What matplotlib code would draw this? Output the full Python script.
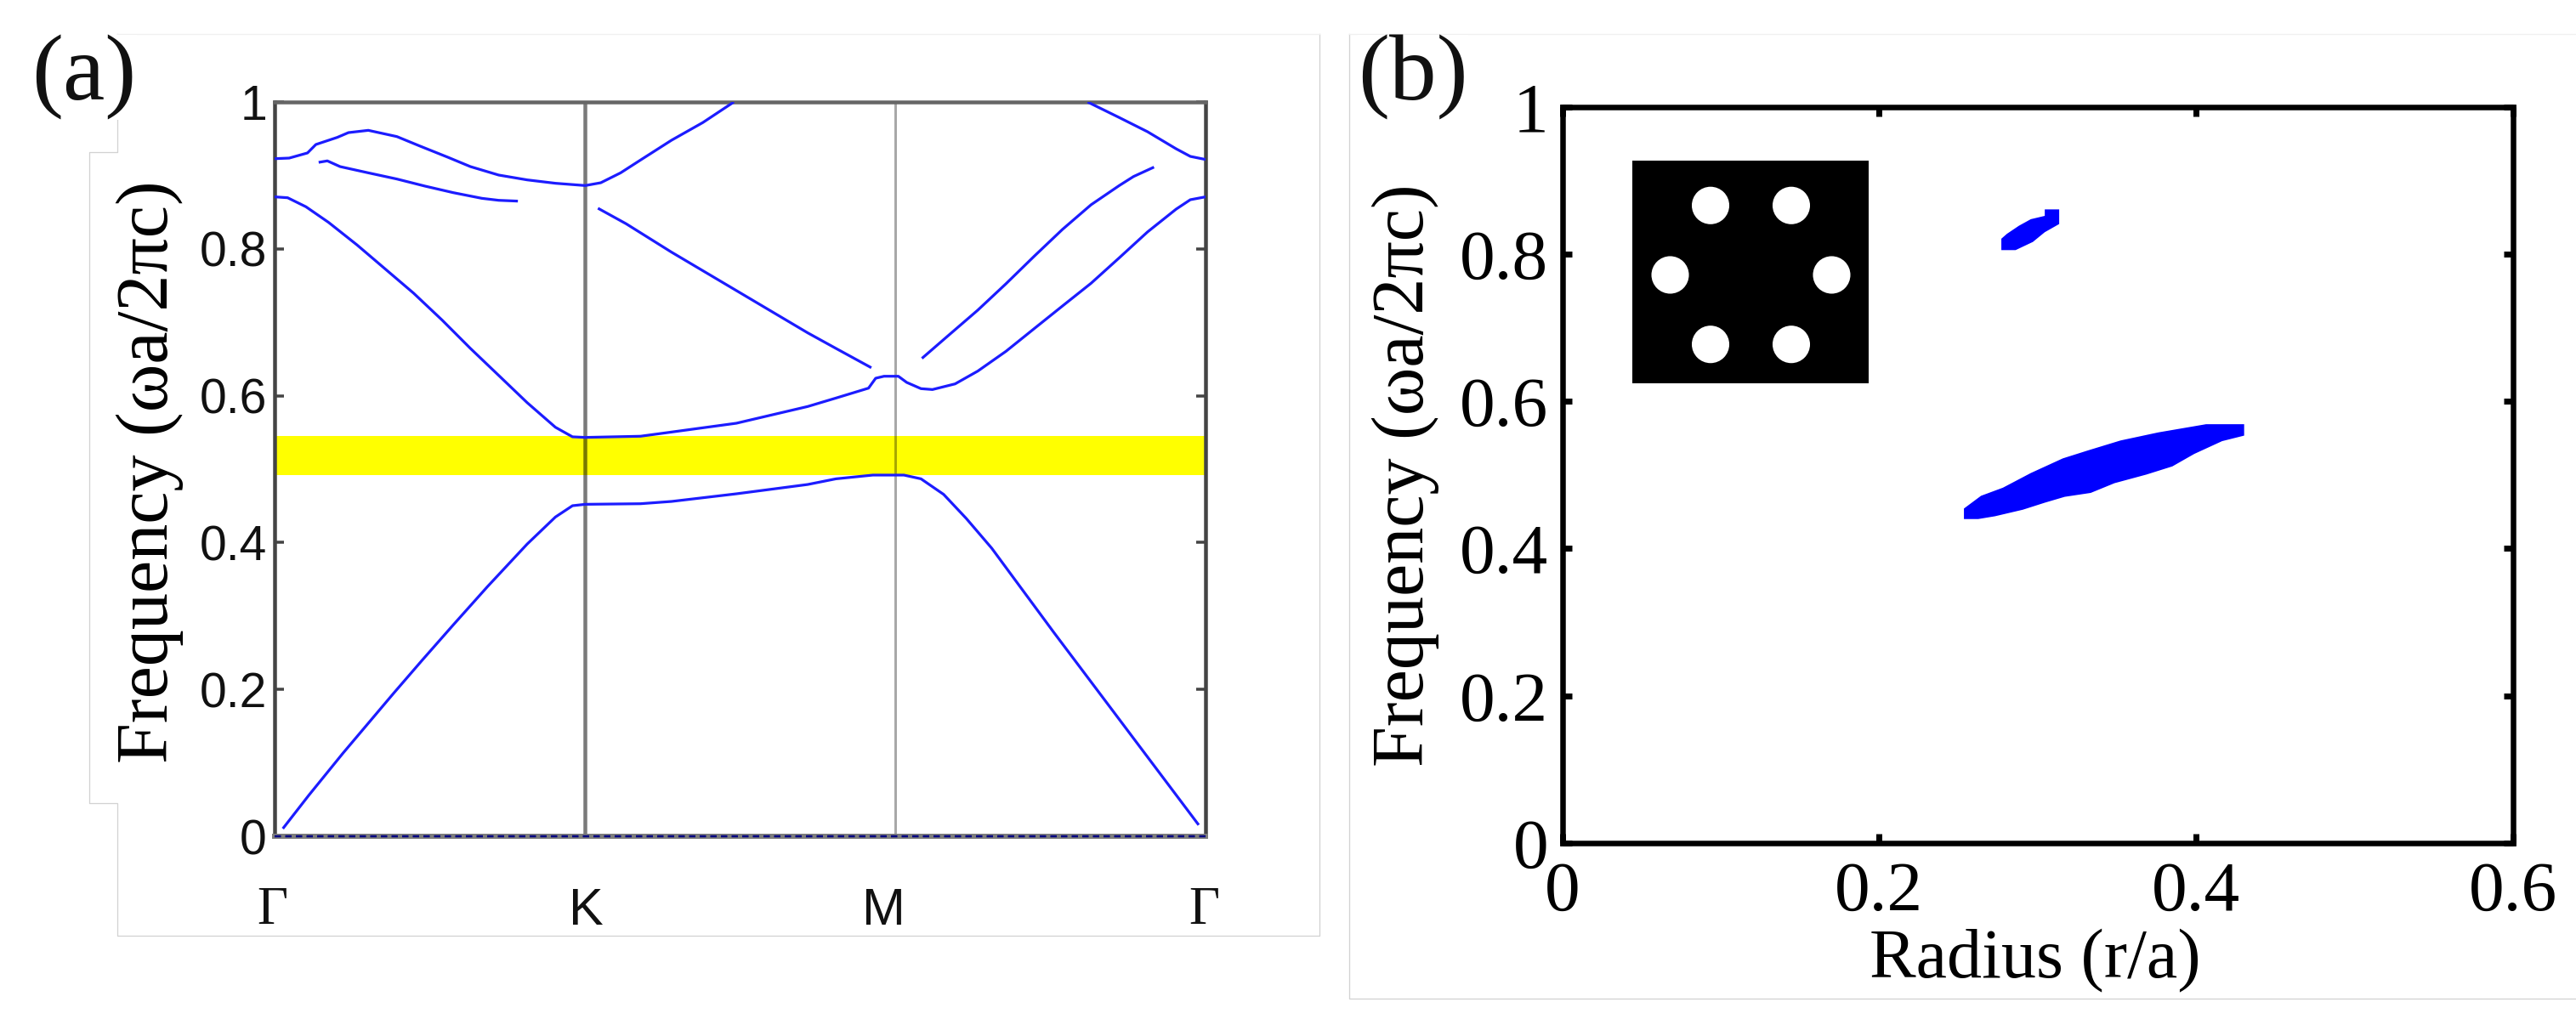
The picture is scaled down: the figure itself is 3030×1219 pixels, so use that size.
import matplotlib
matplotlib.use("Agg")
import matplotlib.pyplot as plt
from matplotlib.lines import Line2D
from matplotlib.patches import Circle

# ==========================================
# DATA - PANEL (a), BAND DIAGRAM
# ==========================================

# path position: 0 = Gamma, 1 = K, 2 = M, 3 = Gamma
band1_x = [0.0265, 0.1105, 0.220, 0.302, 0.384, 0.476, 0.576, 0.686, 0.814, 0.905, 0.960, 1.001, 1.179, 1.279, 1.488, 1.718, 1.809, 1.928, 2.028, 2.083, 2.156, 2.229, 2.311, 2.412, 2.512, 2.631, 2.722, 2.814, 2.905, 2.978]
band1_y = [0.0104, 0.056, 0.113, 0.154, 0.195, 0.240, 0.288, 0.340, 0.398, 0.4348, 0.4502, 0.4521, 0.4529, 0.4560, 0.4664, 0.4791, 0.4868, 0.4919, 0.4919, 0.4868, 0.4656, 0.4328, 0.3923, 0.3344, 0.2771, 0.2103, 0.1592, 0.1075, 0.0564, 0.0154]

band2_x = [0, 0.042, 0.101, 0.174, 0.266, 0.357, 0.448, 0.540, 0.631, 0.722, 0.814, 0.905, 0.960, 1.001, 1.179, 1.279, 1.488, 1.718, 1.809, 1.914, 1.937, 1.964, 2.010, 2.037, 2.083, 2.120, 2.193, 2.266, 2.357, 2.448, 2.539, 2.631, 2.722, 2.813, 2.905, 2.951, 3.0]
band2_y = [0.8708, 0.8696, 0.8573, 0.836, 0.8052, 0.7724, 0.7396, 0.7029, 0.6644, 0.6277, 0.5905, 0.5570, 0.544, 0.5432, 0.5448, 0.5505, 0.5625, 0.5853, 0.5968, 0.6103, 0.6238, 0.6265, 0.6265, 0.6181, 0.6096, 0.6084, 0.6161, 0.6335, 0.6605, 0.6914, 0.7222, 0.7531, 0.7878, 0.8230, 0.8540, 0.8669, 0.8708]

band3_left_x = [0, 0.047, 0.106, 0.133, 0.202, 0.238, 0.302, 0.394, 0.467, 0.558, 0.631, 0.722, 0.814, 0.905, 1.001, 1.051, 1.115, 1.179, 1.279, 1.38, 1.48]
band3_left_y = [0.9228, 0.9236, 0.9306, 0.9421, 0.9518, 0.9583, 0.9614, 0.9529, 0.9402, 0.9248, 0.912, 0.9005, 0.8939, 0.8893, 0.8862, 0.89, 0.9035, 0.9209, 0.9479, 0.972, 1.0]

band3_right_x = [2.62, 2.722, 2.813, 2.905, 2.951, 3.0]
band3_right_y = [1.0, 0.9788, 0.9595, 0.9363, 0.9259, 0.9217]

band4a_x = [0.142, 0.170, 0.211, 0.302, 0.394, 0.485, 0.576, 0.668, 0.722, 0.784]
band4a_y = [0.9178, 0.9198, 0.912, 0.9035, 0.8951, 0.8854, 0.8765, 0.8688, 0.8661, 0.865]

band4b_x = [1.042, 1.133, 1.279, 1.488, 1.718, 1.809, 1.923]
band4b_y = [0.8553, 0.8341, 0.7955, 0.7432, 0.6856, 0.6644, 0.6381]

band4c_x = [2.086, 2.174, 2.266, 2.357, 2.448, 2.539, 2.631, 2.722, 2.768, 2.834]
band4c_y = [0.6508, 0.6830, 0.7165, 0.7525, 0.7900, 0.8265, 0.8600, 0.8862, 0.8985, 0.9113]

# flat band lying on the axis
band0_x = [0, 3]
band0_y = [0, 0]

gap_low = 0.492
gap_high = 0.545

a_yticks = [0, 0.2, 0.4, 0.6, 0.8, 1]
a_yticklabels = ["0", "0.2", "0.4", "0.6", "0.8", "1"]
a_points = [0, 1, 2, 3]
a_point_labels = ["\u0393", "K", "M", "\u0393"]

# ==========================================
# DATA - PANEL (b), GAP MAP
# ==========================================

small_gap_r = [0.2771, 0.2861, 0.2970, 0.3045, 0.3136, 0.3136, 0.3045, 0.3045, 0.2957, 0.2882, 0.2806, 0.2771]
small_gap_f = [0.8052, 0.8052, 0.8163, 0.8295, 0.8406, 0.8605, 0.8605, 0.8517, 0.8472, 0.8383, 0.8273, 0.8207]

large_gap_r = [0.2535, 0.2643, 0.2781, 0.2957, 0.3159, 0.3322, 0.3523, 0.3762, 0.4063, 0.4303, 0.4303, 0.4164, 0.3988, 0.3850, 0.3686, 0.3485, 0.3335, 0.3171, 0.3045, 0.2907, 0.2731, 0.2625, 0.2535]
large_gap_f = [0.4543, 0.4716, 0.4826, 0.5025, 0.5224, 0.5335, 0.5467, 0.5577, 0.5688, 0.5688, 0.5533, 0.5458, 0.5284, 0.5115, 0.5004, 0.4887, 0.4755, 0.4702, 0.4622, 0.4527, 0.4438, 0.4400, 0.4400]

b_xticks = [0, 0.2, 0.4, 0.6]
b_xticklabels = ["0", "0.2", "0.4", "0.6"]
b_yticks = [0, 0.2, 0.4, 0.6, 0.8, 1]
b_yticklabels = ["0", "0.2", "0.4", "0.6", "0.8", "1"]

# holes of the unit cell, in units of the ring radius
hole_x = [-0.5, 0.5, -1, 1, -0.5, 0.5]
hole_y = [0.86, 0.86, 0, 0, -0.86, -0.86]
hole_radius = 0.232

# ==========================================
# SETTINGS
# ==========================================

W = 3030
H = 1219
DPI = 100
PX = 72 / DPI  # one pixel in points

SERIF = "Liberation Serif"
SANS = "Liberation Sans"
BLUE = "#1c1cff"
DARK = "#444444"


def axes_box(left, top, right, bottom):
    return [left / W, 1 - bottom / H, (right - left) / W, (bottom - top) / H]


fig = plt.figure(figsize=(W / DPI, H / DPI), dpi=DPI)

# ==========================================
# PANEL OUTLINES
# ==========================================

frame_a_x = [138, 138, 105, 105, 138, 138, 1552, 1552]
frame_a_y = [40, 179, 179, 945, 945, 1101, 1101, 40]
frame_b_x = [1587, 1587, 3030]
frame_b_y = [40, 1175, 1175]

for fx, fy in [(frame_a_x, frame_a_y), (frame_b_x, frame_b_y)]:
    fig.add_artist(Line2D([v / W for v in fx], [1 - v / H for v in fy],
                          color="#d2d2d2", lw=1.3 * PX, zorder=0))
fig.add_artist(Line2D([138 / W, 1552 / W], [1 - 40 / H, 1 - 40 / H], color="#f0f0f0", lw=1.3 * PX, zorder=0))
fig.add_artist(Line2D([1587 / W, 1], [1 - 40 / H, 1 - 40 / H], color="#f0f0f0", lw=1.3 * PX, zorder=0))

# ==========================================
# PANEL (a)
# ==========================================

ax1 = fig.add_axes(axes_box(323, 120, 1418, 984))
ax1.patch.set_alpha(0)
ax1.set_xlim(0, 3)
ax1.set_ylim(0, 1)

ax1.axhspan(gap_low, gap_high, color="#ffff00", lw=0, zorder=1)
ax1.axvline(a_points[1], color="black", alpha=0.52, lw=4.5 * PX, zorder=2)
ax1.axvline(a_points[2], color="black", alpha=0.34, lw=3 * PX, zorder=2)

bands = [
    (band1_x, band1_y),
    (band2_x, band2_y),
    (band3_left_x, band3_left_y),
    (band3_right_x, band3_right_y),
    (band4a_x, band4a_y),
    (band4b_x, band4b_y),
    (band4c_x, band4c_y),
]
for bx, by in bands:
    ax1.plot(bx, by, color=BLUE, lw=3.2 * PX, zorder=3, solid_capstyle="butt", solid_joinstyle="round")

for side in ["left", "right"]:
    ax1.spines[side].set_color(DARK)
    ax1.spines[side].set_linewidth(4.5 * PX)
ax1.spines["top"].set_color("#666666")
ax1.spines["top"].set_linewidth(4.5 * PX)
ax1.spines["bottom"].set_color("#7d7d7d")
ax1.spines["bottom"].set_linewidth(6 * PX)

ax1.plot(band0_x, band0_y, color="#000080", lw=2.5 * PX, ls=(0, (3, 2)), zorder=4, clip_on=False)

ax1.set_xticks([])
ax1.set_yticks(a_yticks)
ax1.set_yticklabels(a_yticklabels, fontfamily=SANS, fontsize=41, color="#111111")
ax1.tick_params(axis="y", direction="in", left=True, right=True, length=11 * PX,
                width=3.5 * PX, color=DARK, pad=9 * PX)

label_shift = [-3, 1, -14, -2]
for pos, text, dx in zip(a_points, a_point_labels, label_shift):
    ax1.annotate(text, xy=(pos, 0), xycoords=("data", "axes fraction"),
                 xytext=(dx * PX, -88 * PX), textcoords="offset points",
                 ha="center", va="center", fontsize=44 if text != "\u0393" else 45,
                 fontfamily=SANS if text != "\u0393" else SERIF, color="#111111")

fig.text(176 / W, 1 - 555 / H, "Frequency (\u03c9a/2\u03c0c)", rotation=90, ha="center", va="center",
         fontfamily=SERIF, fontsize=62, color="black")
fig.text(99 / W, 1 - 91 / H, "(a)", ha="center", va="center", fontfamily=SERIF, fontsize=80, color="#111111",
         bbox=dict(facecolor="white", edgecolor="none", pad=0))

# ==========================================
# PANEL (b)
# ==========================================

ax2 = fig.add_axes(axes_box(1837.5, 125.5, 2956, 992))
ax2.patch.set_alpha(0)
ax2.set_xlim(0, 0.6)
ax2.set_ylim(0, 1)

ax2.fill(small_gap_r, small_gap_f, color="#0000ff", lw=0)
ax2.fill(large_gap_r, large_gap_f, color="#0000ff", lw=0)

for side in ax2.spines:
    ax2.spines[side].set_color("black")
    ax2.spines[side].set_linewidth(6.5 * PX)

ax2.set_xticks(b_xticks)
ax2.set_xticklabels(b_xticklabels, fontfamily=SERIF, fontsize=60, color="black")
ax2.set_yticks(b_yticks)
ax2.set_yticklabels(b_yticklabels, fontfamily=SERIF, fontsize=60, color="black")
ax2.tick_params(axis="both", direction="in", top=True, right=True, length=11 * PX, width=7 * PX, color="black")
ax2.tick_params(axis="x", pad=21 * PX)
ax2.tick_params(axis="y", pad=16 * PX)

fig.text(2394 / W, 1 - 1150 / H, "Radius (r/a)", ha="center", va="baseline",
         fontfamily=SERIF, fontsize=59, color="black")
fig.text(1653 / W, 1 - 559 / H, "Frequency (\u03c9a/2\u03c0c)", rotation=90, ha="center", va="center",
         fontfamily=SERIF, fontsize=62, color="black")
fig.text(1662 / W, 1 - 91 / H, "(b)", ha="center", va="center", fontfamily=SERIF, fontsize=80, color="#111111",
         bbox=dict(facecolor="white", edgecolor="none", pad=0))

# ==========================================
# INSET - UNIT CELL
# ==========================================

inset = fig.add_axes(axes_box(1919.6, 189.4, 2197.6, 451.2))
inset.set_facecolor("black")
inset.set_xlim(-1.473, 1.454)
inset.set_ylim(-1.344, 1.411)
inset.set_xticks([])
inset.set_yticks([])
for side in inset.spines:
    inset.spines[side].set_visible(False)
for hx, hy in zip(hole_x, hole_y):
    inset.add_patch(Circle((hx, hy), hole_radius, facecolor="white", edgecolor="none"))

fig.savefig("out.png", dpi=DPI, facecolor="white")
